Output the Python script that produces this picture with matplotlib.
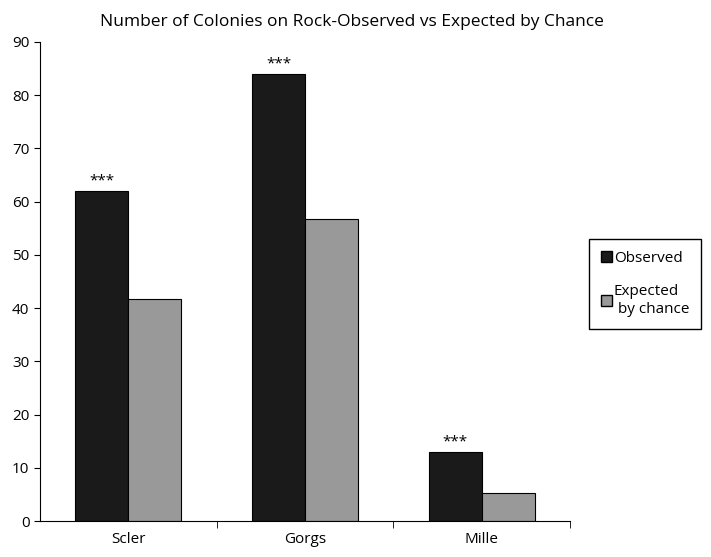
import matplotlib
matplotlib.use("Agg")
import matplotlib.pyplot as plt
import numpy as np
from matplotlib.patches import Patch

plt.rcParams['font.family'] = ['Open Sans', 'DejaVu Sans']

categories = ["Scler", "Gorgs", "Mille"]
observed = [62, 84, 13]
expected = [41.7, 56.7, 5.2]
stars = ["***", "***", "***"]

fig = plt.figure(figsize=(7.11, 5.57), dpi=100)
ax = fig.add_axes([0.056, 0.0646, 0.746, 0.86])
x = np.arange(len(categories))
w = 0.3
ax.bar(x - w/2, observed, w, color="#1a1a1a", edgecolor="black", linewidth=0.8)
ax.bar(x + w/2, expected, w, color="#999999", edgecolor="black", linewidth=0.8)
for xi, v, s in zip(x, observed, stars):
    ax.text(xi - w/2, v + 0.5, s, ha="center", va="bottom", fontsize=11)

ax.set_xlim(-0.5, 2.5)
ax.set_ylim(0, 90)
ax.set_yticks(range(0, 91, 10))
ax.set_xticks(x)
ax.set_xticklabels(categories, fontsize=11)
ax.set_xticks([0.5, 1.5, 2.5], minor=True)
ax.tick_params(axis="x", which="major", length=0, pad=8)
ax.tick_params(axis="x", which="minor", length=5, direction="out")
ax.tick_params(axis="y", labelsize=11, length=4, direction="out")
for s in ["top", "right"]:
    ax.spines[s].set_visible(False)
fig.text(0.495, 0.975, "Number of Colonies on Rock-Observed vs Expected by Chance",
         ha="center", va="top", fontsize=12.5)

handles = [Patch(facecolor="#1a1a1a", edgecolor="black"),
           Patch(facecolor="#999999", edgecolor="black")]
fig.legend(handles, ["Observed", "Expected\n by chance"], loc="upper left",
           bbox_to_anchor=(0.818, 0.585), fancybox=False, edgecolor="black",
           fontsize=11, handlelength=0.7, handletextpad=0.1, labelspacing=1.2,
           borderpad=0.8, framealpha=1)
fig.savefig("out.png", dpi=100)
